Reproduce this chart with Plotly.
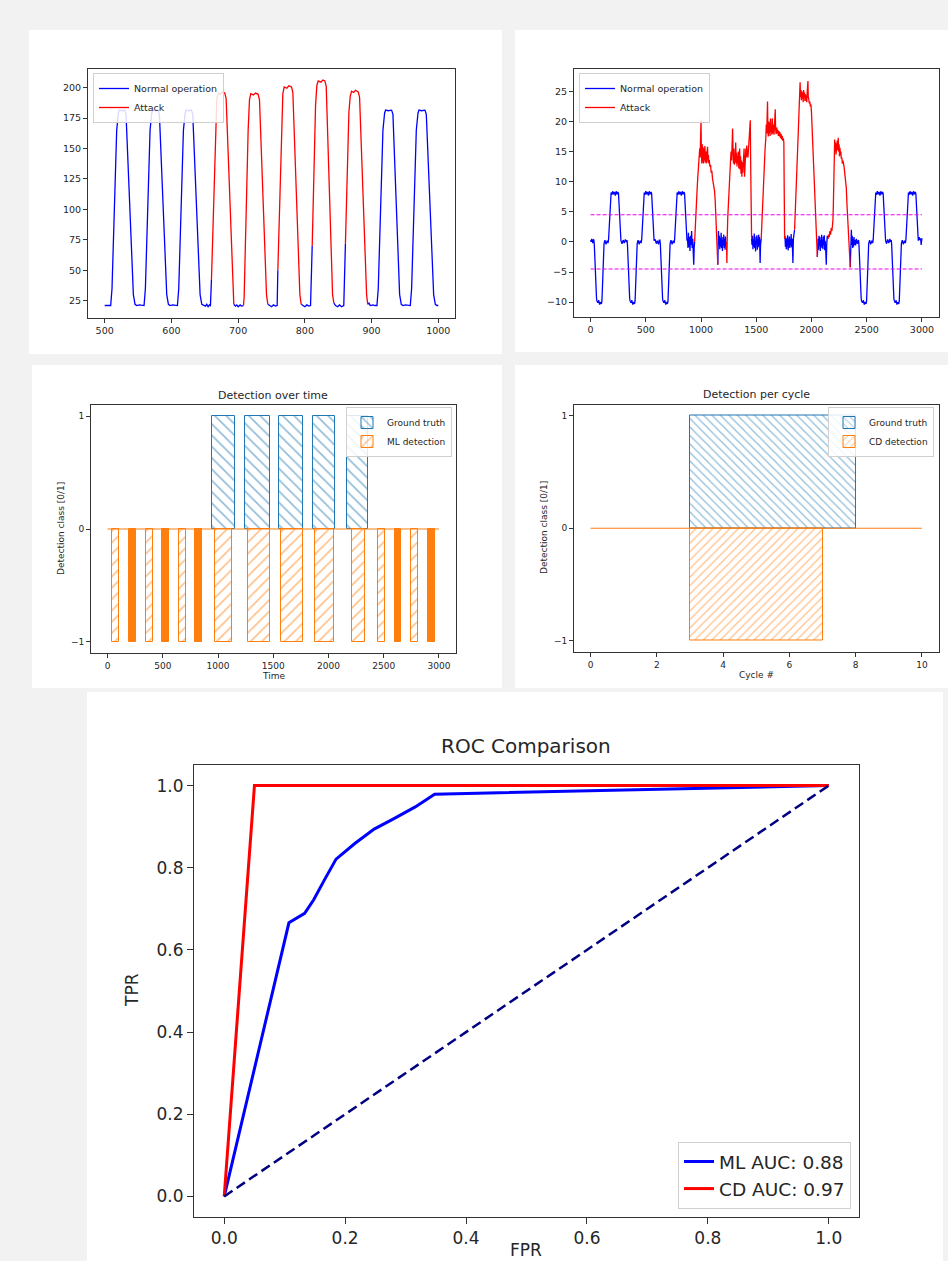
import plotly.graph_objects as go

# ---------------- data ----------------
# Panel 1: signal (time 500..1000), blue = normal, red = attack
p1_blue_x = [500, 509, 511, 518, 520.5, 522, 526, 530, 532, 543, 545.5, 548, 552, 556, 559, 561, 568, 570.5, 572, 576, 580, 582, 593, 595.5,
             598, 602, 606, 609, 611, 618, 620.5, 622, 626, 630, 632, 643, 645.5, 648, 651, 653, 655, 657, 658.5, 660, None,
             693.5, 696, 698, 700, 703, 705, 708, None,
             744.5, 747, 750, 753, 756, 758.5, 759.5, None,
             794.5, 797, 800, 803, 806, 808.5, 811, None,
             843.5, 846, 849, 852, 855, 858.3, 860.8, None,
             894.2, 896, 898, 902, 905, 908, 910, 917, 919.5, 921, 925, 930, 932, 942, 944.5, 947, 951, 955, 958, 960, 967, 969.5,
             971, 975, 980, 982, 993, 995.5, 998, 1000]
p1_blue_y = [21, 21, 35, 165, 179, 181.5, 181, 181.5, 178, 30, 22, 21, 21.5, 21, 21, 35, 165, 179, 181.5, 181, 181.5, 178, 30, 22,
             21, 21.5, 21, 21, 35, 165, 179, 181.5, 181, 181.5, 178, 30, 22, 21, 20.5, 22, 20, 21.5, 21, 42, None,
             22, 20.5, 21.5, 20, 21.5, 20.5, 21, None,
             22, 21, 20, 21.5, 20.5, 21, 50, None,
             22, 21, 20, 21.5, 20.5, 21, 70, None,
             23, 21, 20, 21.5, 20, 21, 72, None,
             22, 23, 21, 21.5, 21, 21, 35, 165, 179, 181.5, 181, 181.5, 178, 30, 22, 21, 21.5, 21, 21, 35, 165, 179,
             181.5, 181, 181.5, 178, 30, 22, 21, 21]
p1_red_x = [660, 666, 668, 670, 673, 676, 680, 682, 692, 693.5, None,
            708, 709, 715, 717, 719, 723, 726, 730, 732, 742.5, 744.5, None,
            759.5, 765, 767, 769, 773, 776, 780, 782, 792.5, 794.5, None,
            811, 816, 818, 820, 824, 827, 830, 832, 841.5, 843.5, None,
            860.8, 866, 868, 870, 873, 876, 880, 882, 892.5, 894.2]
p1_red_y = [42, 170, 190, 195.5, 194.5, 196.3, 195.5, 191, 30, 22, None,
            21, 28, 165, 190, 195, 194, 195.5, 194.5, 190, 30, 22, None,
            50, 175, 195, 200.5, 199.5, 201.5, 200.5, 196, 30, 22, None,
            70, 185, 202, 205.5, 204.5, 206.3, 205.5, 201, 30, 23, None,
            72, 180, 193, 197, 196, 197.8, 196.5, 192, 30, 22]

# Panel 2: residual signal (time 0..3000)
p2_cycle_start = [30, 330, 628, 2426, 2722]
p2_cycle_dt = [0, 4, 10, 18, 24, 28, 36, 44, 52, 60, 68, 73, 77, 82, 87, 92, 100, 110, 120, 128, 133, 138, 144, 150,
               156, 162, 170, 178, 186, 194, 202, 210, 218, 223, 228, 234, 240, 245]
p2_cycle_v = [0.3, -0.5, -4, -8, -9.4, -9.8, -10.1, -9.7, -10.4, -10, -10.3, -9.8, -7, -3.5, -1, -0.3, 0.3, -0.4, 0.2, -0.2,
              0.4, 2.5, 5.5, 7.6, 8.2, 7.8, 8.4, 7.9, 8.3, 7.7, 8.4, 7.9, 8.3, 8.0, 6, 2.5, 0.5, 0.2]
p2_pre = [(0, 0.3), (5, 0), (10, 0.5), (15, 0.2), (20, -0.2), (25, 0.4)]
p2_gap12 = [(285, -0.3), (295, 0.3), (305, -0.2), (315, 0.4), (325, 0)]
p2_gap23 = [(585, 0.4), (595, -0.3), (605, 0.2), (615, -0.4), (622, 0.3)]
p2_pre_attack = [(878, 0.5), (882, -1), (886, 1.5), (890, -0.8), (895, 0.8), (900, -1.5), (905, 1), (910, -0.5), (915, 1.8),
                 (920, -1), (925, 0.5), (930, -1.2), (934, -3.8), (938, -1), (942, 0)]
p2_b1 = [(1152, -3.8), (1155, -1), (1158, 1.8), (1162, -0.5), (1166, 1), (1170, -1.2), (1174, 0.6), (1178, -0.8), (1182, 1.5),
         (1186, -1), (1190, 0.3), (1194, -1.5), (1198, 0.8), (1202, -0.6), (1206, 1.2), (1210, -1), (1214, 0.5), (1218, -1.3),
         (1222, 0.9), (1226, -0.7), (1231, 0)]
p2_b2 = [(1458, 0.5), (1462, -0.5), (1466, 1), (1470, -1.2), (1474, 0.4), (1478, -0.8), (1482, 1.4), (1486, -1), (1490, 0.2),
         (1494, -1.6), (1498, 0.9), (1502, -0.4), (1506, 1.1), (1510, -1.3), (1514, 0.5), (1518, -0.9), (1522, 1.2),
         (1526, -0.6), (1530, 0.8), (1535, -3.5), (1539, -0.5), (1545, 0.5)]
p2_b3 = [(1757, 0.5), (1760, 1), (1764, -0.8), (1768, 0.6), (1772, -1.2), (1776, 0.3), (1780, -0.5), (1784, 1.1), (1788, -1.4),
         (1792, 0.2), (1796, -0.7), (1800, 0.9), (1804, -1), (1808, 0.4), (1812, -0.6), (1816, 1.3), (1820, -0.9), (1824, 0.5),
         (1828, -1.1), (1832, -3.5), (1836, 0.5), (1840, 1.5), (1847, 2)]
p2_b4 = [(2053, -2.5), (2056, -1), (2060, 0.5), (2064, -1.3), (2068, 1), (2072, -0.6), (2076, 0.8), (2080, -1.5), (2084, 0.3),
         (2088, -0.8), (2092, 1.2), (2096, -1), (2100, 0.4), (2104, -1.2), (2108, 0.9), (2112, -0.5), (2116, 1.1),
         (2120, -1.4), (2124, 0.2), (2128, -0.9), (2134, -3.8), (2138, -0.5), (2143, 1), (2149, 0.5)]
p2_post = [(2351, -4.2), (2354, -1), (2357, 1.5), (2361, 2), (2365, -0.5), (2369, 1), (2373, -1), (2377, 0.5), (2381, -0.8),
           (2385, 0.8), (2389, -0.5), (2395, 0.3), (2400, -0.6), (2405, 0.5), (2410, 0.2), (2415, -0.3), (2420, 0.3)]
p2_gap45 = [(2680, -0.3), (2690, 0.4), (2700, -0.2), (2710, 0.5), (2716, 0)]
p2_tail = [(2975, 0.8), (2982, 0.3), (2988, 0.6), (2993, -0.5), (2997, 0.2), (3000, 0.6)]

p2_a1 = [(942, 0), (946, 2), (952, 4.5), (958, 6.5), (964, 8.5), (970, 10.5), (976, 12), (982, 13.5), (988, 15.5), (992, 14),
         (996, 17), (1000, 20.3), (1003, 15), (1007, 13), (1011, 16.2), (1015, 13.2), (1019, 15.7), (1023, 13), (1027, 15.5),
         (1031, 13.5), (1035, 15.9), (1039, 13.2), (1043, 15), (1047, 13), (1051, 14.5), (1055, 13.8), (1059, 15.8),
         (1063, 13.2), (1067, 14.4), (1071, 13), (1075, 13.6), (1080, 12.5), (1086, 12.8), (1092, 11.5), (1098, 11.8),
         (1104, 10.5), (1110, 10), (1116, 9), (1122, 8.5), (1128, 7), (1134, 4.5), (1140, 1.5), (1145, 0), (1149, -2),
         (1152, -3.8)]
p2_a2 = [(1231, 0), (1234, -3.5), (1237, 0.5), (1242, 4), (1248, 7), (1254, 9.5), (1260, 11.5), (1266, 13), (1272, 15),
         (1277, 13.5), (1282, 16.5), (1286, 18.8), (1290, 15), (1294, 13), (1298, 15.5), (1302, 12.8), (1306, 14.5),
         (1310, 13.2), (1314, 16.5), (1318, 13), (1322, 14.8), (1326, 12.5), (1330, 14.3), (1334, 13), (1338, 15), (1342, 12.2),
         (1346, 13.8), (1350, 15.5), (1354, 12), (1358, 14.2), (1362, 11.3), (1366, 13.5), (1370, 10.8), (1374, 13.2),
         (1378, 11.5), (1382, 14), (1386, 12.8), (1390, 15.5), (1394, 10.8), (1398, 14), (1402, 13), (1406, 15.5), (1410, 14),
         (1414, 16), (1418, 15), (1425, 14), (1432, 16), (1438, 17.5), (1442, 19), (1446, 20.2), (1450, 12), (1454, 4),
         (1458, 0.5)]
p2_a3 = [(1545, 0.5), (1550, 3), (1556, 6), (1562, 9), (1568, 11.5), (1574, 13.5), (1580, 15.5), (1586, 17), (1591, 19.5),
         (1595, 18), (1599, 20.5), (1602, 23.3), (1605, 19), (1609, 17.5), (1613, 20), (1617, 18), (1621, 19.8), (1625, 17.6),
         (1629, 20.5), (1633, 18.2), (1637, 19), (1641, 17.8), (1645, 20.5), (1649, 19), (1653, 18), (1657, 19.5),
         (1661, 17.8), (1665, 19.2), (1669, 20), (1672, 22), (1675, 18.8), (1680, 17.9), (1685, 19), (1690, 18), (1695, 18.6),
         (1700, 17.6), (1705, 18.4), (1710, 17.5), (1715, 18.2), (1720, 17.2), (1725, 17.9), (1730, 17), (1735, 17.6),
         (1740, 16.8), (1745, 17.2), (1750, 16.5), (1753, 9), (1757, 0.5)]
p2_a4 = [(1847, 2), (1852, 4), (1858, 7), (1864, 10), (1870, 13), (1876, 16), (1882, 19), (1887, 22), (1891, 24.5),
         (1897, 26.5), (1901, 24), (1905, 25.2), (1909, 23.5), (1913, 25), (1917, 23.8), (1921, 24.8), (1925, 23.2),
         (1929, 25.2), (1933, 24), (1937, 24.8), (1941, 23.4), (1945, 24.5), (1949, 23.6), (1953, 24.2), (1957, 23.2),
         (1961, 24.8), (1965, 25.5), (1968, 26.7), (1971, 24), (1975, 23.8), (1980, 23), (1985, 23.3), (1990, 22.5),
         (1995, 22.8), (2000, 21.5), (2005, 19), (2010, 16.5), (2015, 14), (2020, 11.5), (2025, 9), (2030, 6.5), (2035, 4.5),
         (2040, 2.5), (2045, 1), (2049, -0.5), (2053, -2.5)]
p2_a5 = [(2149, 0.5), (2155, 1.2), (2161, 0.8), (2167, 1.8), (2173, 1.2), (2179, 2.3), (2185, 1.8), (2190, 2.8), (2194, 3.5),
         (2198, 6), (2202, 10), (2206, 14), (2210, 17), (2214, 15), (2218, 16.5), (2222, 14.5), (2226, 16.2), (2230, 15),
         (2234, 16.8), (2238, 15.2), (2242, 17.3), (2246, 15), (2250, 16.2), (2254, 14.2), (2258, 15.6), (2262, 14.5),
         (2266, 15), (2270, 13.8), (2275, 14), (2280, 13), (2285, 13.5), (2295, 12.5), (2305, 11), (2315, 9), (2322, 6),
         (2330, 3), (2338, 0.5), (2344, -1.5), (2351, -4.2)]
p2_threshold = [4.5, -4.5]
p2_threshold_x = [0, 3000]

# Panel 3: detection over time (intervals)
p3_ground_truth = [(947, 1155), (1240, 1467), (1551, 1769), (1860, 2059), (2165, 2362)]
p3_ml_hatched = [(42, 106), (345, 408), (644, 708), (971, 1125), (1270, 1467), (1569, 1766), (1881, 2053), (2211, 2335),
                 (2450, 2510), (2749, 2812)]
p3_ml_solid = [(190, 257), (493, 556), (789, 853), (2598, 2658), (2900, 2961)]
p3_time_span = [0, 3000]

# Panel 4: detection per cycle
p4_ground_truth = [(3, 8)]
p4_cd_detection = [(3, 7)]
p4_cycle_span = [0, 10]

# Panel 5: ROC
ml_fpr = [0, 0.107, 0.133, 0.148, 0.166, 0.185, 0.216, 0.248, 0.28, 0.316, 0.348, 1.0]
ml_tpr = [0, 0.666, 0.689, 0.722, 0.771, 0.821, 0.859, 0.894, 0.919, 0.948, 0.979, 1.0]
cd_fpr = [0, 0.05, 1.0]
cd_tpr = [0, 1.0, 1.0]
chance = [0, 1]
ml_auc = 0.88
cd_auc = 0.97

# ---------------- assembly ----------------
W, H = 948, 1261
FONT = "DejaVu Sans"
TXT = "#262626"


def fx(px):
    return px / W


def fy(py):
    return 1 - py / H


def cycle_pts(s):
    return [(s + d, v) for d, v in zip(p2_cycle_dt, p2_cycle_v)]


blue_pts = (p2_pre + cycle_pts(p2_cycle_start[0]) + p2_gap12 + cycle_pts(p2_cycle_start[1]) + p2_gap23
            + cycle_pts(p2_cycle_start[2]) + p2_pre_attack + [None] + p2_b1 + [None] + p2_b2 + [None] + p2_b3
            + [None] + p2_b4 + [None] + p2_post + cycle_pts(p2_cycle_start[3]) + p2_gap45
            + cycle_pts(p2_cycle_start[4]) + p2_tail)
red_pts = p2_a1 + [None] + p2_a2 + [None] + p2_a3 + [None] + p2_a4 + [None] + p2_a5


def split(pts):
    xs = [p[0] if p else None for p in pts]
    ys = [p[1] if p else None for p in pts]
    return xs, ys


p2_bx, p2_by = split(blue_pts)
p2_rx, p2_ry = split(red_pts)

fig = go.Figure()

# Panel 1
fig.add_trace(go.Scatter(x=p1_blue_x, y=p1_blue_y, mode="lines", name="Normal operation",
                         line=dict(color="#0000ff", width=1.3), xaxis="x", yaxis="y", legend="legend"))
fig.add_trace(go.Scatter(x=p1_red_x, y=p1_red_y, mode="lines", name="Attack",
                         line=dict(color="#ff0000", width=1.3), xaxis="x", yaxis="y", legend="legend"))

# Panel 2
fig.add_trace(go.Scatter(x=p2_bx, y=p2_by, mode="lines", name="Normal operation",
                         line=dict(color="#0000ff", width=1.3), xaxis="x2", yaxis="y2", legend="legend2"))
fig.add_trace(go.Scatter(x=p2_rx, y=p2_ry, mode="lines", name="Attack",
                         line=dict(color="#ff0000", width=1.3), xaxis="x2", yaxis="y2", legend="legend2"))
for t in p2_threshold:
    fig.add_trace(go.Scatter(x=p2_threshold_x, y=[t, t], mode="lines", showlegend=False,
                             line=dict(color="#ee00ee", width=1, dash="4px,2px"), xaxis="x2", yaxis="y2"))


def bar_trace(intervals, sign, name, color, shape, size, xa, ya, leg, show=True, solid=False):
    xs = [(a + b) / 2 for a, b in intervals]
    ws = [b - a for a, b in intervals]
    if solid:
        marker = dict(color=color, line=dict(color=color, width=1))
    else:
        marker = dict(color="rgba(0,0,0,0)", line=dict(color=color, width=1),
                      pattern=dict(shape=shape, fgcolor=color, bgcolor="rgba(0,0,0,0)", size=size, solidity=0.2))
    return go.Bar(x=xs, y=[sign] * len(xs), base=[0] * len(xs), width=ws, name=name, marker=marker,
                  xaxis=xa, yaxis=ya, legend=leg, showlegend=show)


# Panel 3
fig.add_trace(go.Scatter(x=p3_time_span, y=[0, 0], mode="lines", showlegend=False,
                         line=dict(color="#ff7f0e", width=1.2), xaxis="x3", yaxis="y3"))
fig.add_trace(bar_trace(p3_ground_truth, 1, "Ground truth", "#1f77b4", "\\", 8, "x3", "y3", "legend3"))
fig.add_trace(bar_trace(p3_ml_hatched, -1, "ML detection", "#ff7f0e", "/", 8, "x3", "y3", "legend3"))
fig.add_trace(bar_trace(p3_ml_solid, -1, "ML detection", "#ff7f0e", "/", 8, "x3", "y3", "legend3",
                        show=False, solid=True))

# Panel 4
fig.add_trace(go.Scatter(x=p4_cycle_span, y=[0, 0], mode="lines", showlegend=False,
                         line=dict(color="#ff7f0e", width=1.2), xaxis="x4", yaxis="y4"))
fig.add_trace(bar_trace(p4_ground_truth, 1, "Ground truth", "#1f77b4", "\\", 6, "x4", "y4", "legend4"))
fig.add_trace(bar_trace(p4_cd_detection, -1, "CD detection", "#ff7f0e", "/", 6, "x4", "y4", "legend4"))

# Panel 5
fig.add_trace(go.Scatter(x=ml_fpr, y=ml_tpr, mode="lines", name=f"ML AUC: {ml_auc:.2f}",
                         line=dict(color="#0000ff", width=3), xaxis="x5", yaxis="y5", legend="legend5"))
fig.add_trace(go.Scatter(x=cd_fpr, y=cd_tpr, mode="lines", name=f"CD AUC: {cd_auc:.2f}",
                         line=dict(color="#ff0000", width=3), xaxis="x5", yaxis="y5", legend="legend5"))
fig.add_trace(go.Scatter(x=chance, y=chance, mode="lines", showlegend=False,
                         line=dict(color="#000080", width=2.5, dash="10px,5px"), xaxis="x5", yaxis="y5"))


def axis(dom, anchor, rng, tickvals, size, ticklen=4):
    return dict(domain=dom, anchor=anchor, range=rng, tickvals=tickvals, showline=True, mirror=True,
                linecolor="#333333", linewidth=1, ticks="outside", ticklen=ticklen, tickcolor="#333333",
                tickfont=dict(family=FONT, size=size, color=TXT), showgrid=False, zeroline=False,
                fixedrange=True)


def legend(x, y, xanchor, yanchor, size):
    return dict(x=x, y=y, xanchor=xanchor, yanchor=yanchor, xref="paper", yref="paper",
                bgcolor="rgba(255,255,255,0.85)", bordercolor="#d0d0d0", borderwidth=1,
                font=dict(family=FONT, size=size, color=TXT), tracegroupgap=0)


shapes = []
for (x0, y0, x1, y1) in [(29, 30, 502, 354), (515, 30, 948, 352), (32, 365, 502, 688), (515, 365, 948, 688),
                         (87, 692, 943, 1261)]:
    shapes.append(dict(type="rect", xref="paper", yref="paper", x0=fx(x0), x1=fx(x1), y0=fy(y1), y1=fy(y0),
                       fillcolor="white", line=dict(width=0), layer="below"))

annotations = []


def ann(text, x, y, size, angle=0):
    annotations.append(dict(text=text, x=fx(x), y=fy(y), xref="paper", yref="paper", showarrow=False,
                            xanchor="center", yanchor="middle", textangle=angle,
                            font=dict(family=FONT, size=size, color=TXT)))


ann("Detection over time", 273, 395, 11)
ann("Time", 273, 676, 9)
ann("Detection class [0/1]", 61, 529, 9, -90)
ann("Detection per cycle", 756, 394, 11)
ann("Cycle #", 756, 675, 9)
ann("Detection class [0/1]", 544, 528, 9, -90)
ann("ROC Comparison", 526, 746, 20)
ann("TPR", 132, 990, 17, -90)
ann("FPR", 526, 1250, 17)

fig.update_layout(
    width=W, height=H, margin=dict(l=0, r=0, t=0, b=0),
    paper_bgcolor="#f2f2f2", plot_bgcolor="white", barmode="overlay", bargap=0,
    font=dict(family=FONT, color=TXT),
    xaxis=axis([fx(88), fx(455)], "y", [475, 1025], [500, 600, 700, 800, 900, 1000], 9.5),
    yaxis=axis([fy(318), fy(69)], "x", [10.75, 215.3], [25, 50, 75, 100, 125, 150, 175, 200], 9.5),
    xaxis2=axis([fx(574), fx(938.5)], "y2", [-150, 3150], [0, 500, 1000, 1500, 2000, 2500, 3000], 9.5),
    yaxis2=axis([fy(317), fy(69)], "x2", [-12.47, 28.7], [-10, -5, 0, 5, 10, 15, 20, 25], 9.5),
    xaxis3=axis([fx(91), fx(455.5)], "y3", [-150, 3150], [0, 500, 1000, 1500, 2000, 2500, 3000], 9),
    yaxis3=axis([fy(653), fy(405)], "x3", [-1.1, 1.1], [-1, 0, 1], 9),
    xaxis4=axis([fx(574), fx(938.5)], "y4", [-0.5, 10.5], [0, 2, 4, 6, 8, 10], 9),
    yaxis4=axis([fy(652), fy(404.5)], "x4", [-1.1, 1.1], [-1, 0, 1], 9),
    xaxis5=axis([fx(194), fx(859)], "y5", [-0.05, 1.05], [0, 0.2, 0.4, 0.6, 0.8, 1.0], 17, 6),
    yaxis5=axis([fy(1217), fy(765)], "x5", [-0.05, 1.05], [0, 0.2, 0.4, 0.6, 0.8, 1.0], 17, 6),
    legend=legend(fx(93), fy(73), "left", "top", 9.5),
    legend2=legend(fx(579), fy(73), "left", "top", 9.5),
    legend3=legend(fx(452), fy(407), "right", "top", 9),
    legend4=legend(fx(934), fy(407), "right", "top", 9),
    legend5=legend(fx(851), fy(1209), "right", "bottom", 18.5),
    shapes=shapes, annotations=annotations,
)
fig.update_xaxes(tickformat=".1f", selector=dict(anchor="y5"))
fig.update_yaxes(tickformat=".1f", selector=dict(anchor="x5"))

fig.write_html("out.html", config={"displayModeBar": False},
               post_script="document.body.style.margin='0px';document.body.style.background='#f2f2f2';"
                           "document.documentElement.style.overflow='hidden';")
